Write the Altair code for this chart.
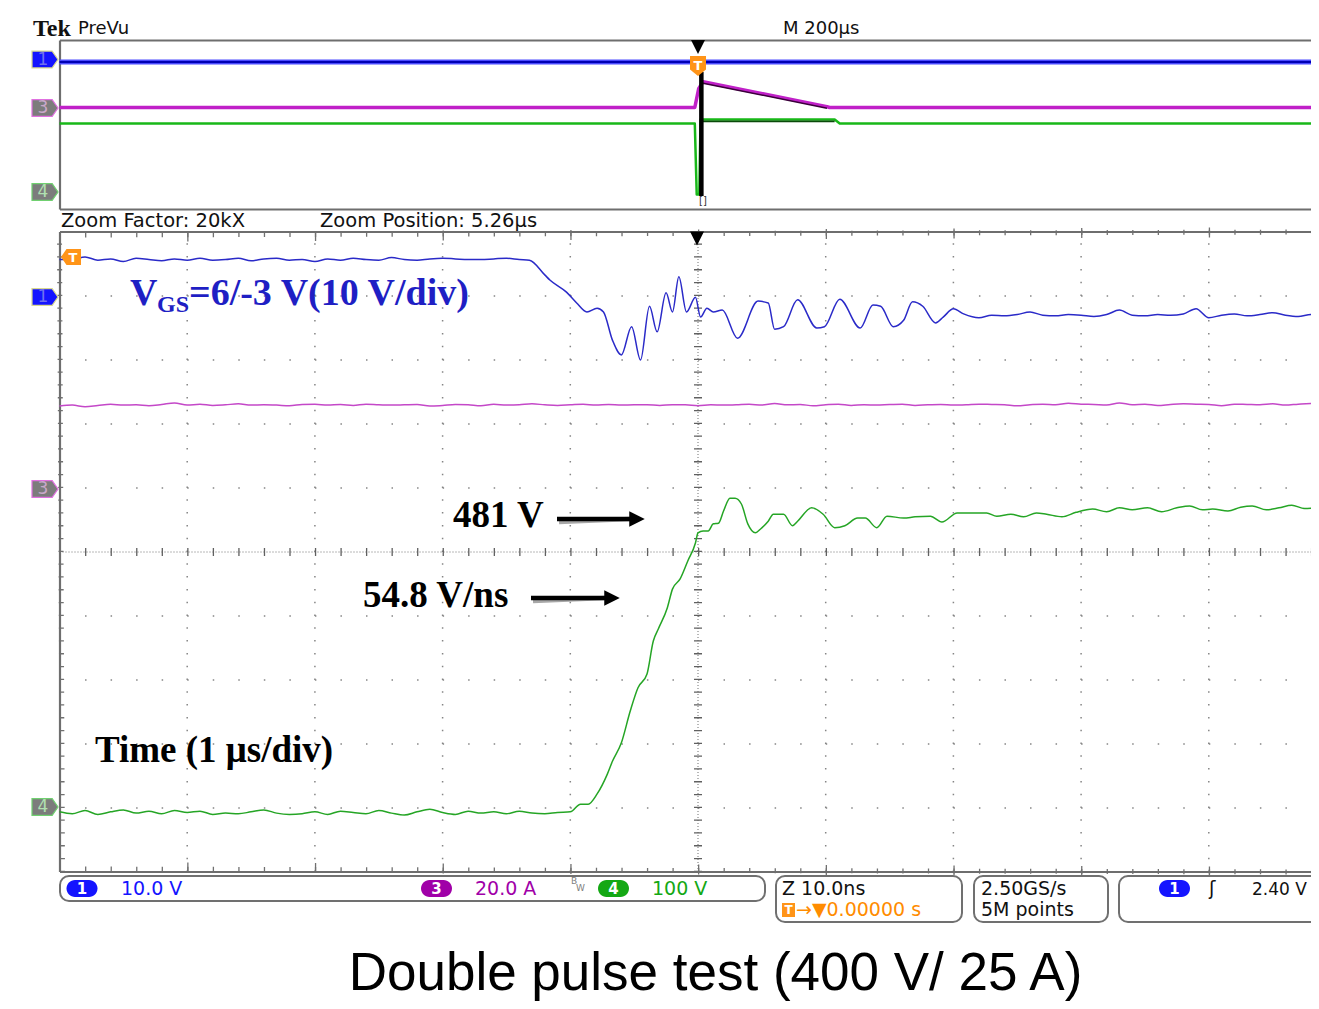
import altair as alt
import pandas as pd

# ---------------- waveform data ----------------
# Zoom window: 10 ns/div, trigger at t = 0 ns
VGS_T = [
    -50, -49, -48, -47, -46, -45, -44, -43, -42, -41,
    -40, -39, -38, -37, -36, -35, -34, -33, -32, -31,
    -30, -29, -28, -27, -26, -25, -24, -23, -22, -21,
    -20, -19, -18, -17, -16, -15, -14,
    -13.2, -12.0, -11.6, -10.3, -9.5, -8.7, -7.9, -7.4, -6.7, -6.0,
    -5.2, -4.5, -3.8, -3.2, -2.5, -2.0, -1.5, -0.9, -0.2, 0.2,
    0.7, 1.2, 1.9, 3.1, 4.7, 5.5, 6.0, 6.7, 7.8, 9.3,
    9.9, 11.1, 12.7, 13.7, 14.3, 15.3, 16.1, 16.8, 17.6, 18.6,
    19.2, 20.0, 20.8,
    22, 23, 24, 25, 26, 27, 28, 29, 30, 31,
    32, 33, 34, 35, 36, 37, 38, 39, 40, 41,
    42, 43, 44, 45, 46, 47, 48, 48.6,
]
VGS_V = [
    5.7, 5.7, 6.1, 5.6, 5.8, 5.4, 5.9, 5.7, 5.5, 5.8,
    5.6, 5.9, 5.6, 5.7, 5.9, 5.5, 5.8, 5.9, 5.6, 5.7,
    5.4, 5.8, 5.6, 5.9, 5.7, 5.6, 6.0, 5.7, 5.6, 5.8,
    5.9, 5.8, 5.7, 5.7, 5.8, 5.9, 5.7,
    5.6, 3.3, 2.5, 0.6, -1.1, -2.5, -1.9, -2.5, -6.9, -9.2,
    -4.8, -10.0, -1.6, -5.6, 0.5, -2.5, 3.0, -2.5, -0.2, -3.3,
    -1.9, -2.5, -2.2, -6.6, -0.8, -1.1, -5.2, -4.8, -0.6, -5.0,
    -4.8, -0.5, -5.0, -1.4, -1.6, -4.8, -3.8, -0.9, -1.6, -4.2,
    -3.3, -2.0, -2.8,
    -3.4, -3.0, -3.1, -2.9, -2.5, -3.0, -3.1, -2.9, -3.0, -3.2,
    -2.9, -2.2, -3.0, -3.1, -2.9, -3.0, -2.8, -2.0, -3.4, -3.0,
    -2.8, -3.1, -2.9, -2.6, -3.0, -3.2, -2.9, -3.0,
]
ID_T = [
    -50, -49, -48, -47, -46, -45, -44, -43, -42, -41,
    -40, -39, -38, -37, -36, -35, -34, -33, -32, -31,
    -30, -29, -28, -27, -26, -25, -24, -23, -22, -21,
    -20, -19, -18, -17, -16, -15, -14, -13, -12, -11,
    -10, -9, -8, -7, -6, -5, -4, -3, -2, -1,
    0, 1, 2, 3, 4, 5, 6, 7, 8, 9,
    10, 11, 12, 13, 14, 15, 16, 17, 18, 19,
    20, 21, 22, 23, 24, 25, 26, 27, 28, 29,
    30, 31, 32, 33, 34, 35, 36, 37, 38, 39,
    40, 41, 42, 43, 44, 45, 46, 47, 48, 48.6,
]
ID_A = [
    25.6, 25.9, 25.4, 25.8, 26.2, 25.9, 26.0, 25.7, 26.1, 26.6,
    25.9, 26.2, 25.8, 26.0, 26.3, 25.9, 26.0, 25.9, 25.7, 26.1,
    26.2, 25.9, 26.1, 25.8, 26.2, 26.0, 25.9, 26.0, 26.1, 25.6,
    25.8, 26.1, 26.0, 25.7, 26.2, 25.9, 26.0, 26.3, 26.0, 25.8,
    26.0, 26.2, 25.9, 26.1, 25.9, 26.0, 26.0, 25.8, 26.0, 26.0,
    25.7, 26.0, 25.9, 26.0, 26.2, 25.9, 26.4, 26.0, 26.1, 25.7,
    26.0, 26.2, 25.8, 26.0, 25.9, 26.1, 26.2, 25.8, 26.0, 26.1,
    25.9, 26.0, 26.2, 26.1, 26.0, 25.7, 26.0, 26.2, 26.0, 26.5,
    26.2, 26.1, 25.9, 26.6, 26.0, 26.2, 25.8, 26.1, 26.3, 26.2,
    26.1, 25.7, 26.2, 26.1, 26.0, 26.3, 25.9, 26.2, 26.4, 26.1,
]
VDS_T = [
    -50, -49, -48, -47, -46, -45, -44, -43, -42, -41,
    -40, -39, -38, -37, -36, -35, -34, -33, -32, -31,
    -30, -29, -28, -27, -26, -25, -24, -23, -22, -21,
    -20, -19, -18, -17, -16, -15, -14, -13, -12, -11, -10,
    -9.2, -8.6, -7.9, -7.1, -6.7, -6.0, -5.3, -4.7, -4.0, -3.5,
    -3.1, -2.4, -2.0, -1.4, -0.8, -0.2, 0.0, 0.4, 0.8, 1.2,
    1.6, 2.0, 2.5, 2.9, 3.4, 3.9, 4.5, 4.9, 5.5, 5.9,
    6.7, 7.4, 7.8, 8.9, 9.8, 10.7, 11.5, 12.5, 13.1, 14.0,
    14.8, 16.1, 17.0, 18.2, 19.1, 20.3, 22.6, 23.4, 24.5, 25.5,
    26.5, 27.3, 28.5, 29.6, 30.9, 32.0, 33.0, 34.0, 35.2, 36.3,
    37.5, 38.5, 39.5, 40.3, 41.5, 42.5, 43.4, 44.5, 45.5, 46.5,
    47.5, 48.6,
]
VDS_V = [
    -6, -9, -4, -10, -6, -3, -8, -5, -9, -4,
    -7, -5, -10, -8, -9, -6, -3, -8, -10, -9,
    -6, -10, -5, -7, -9, -4, -8, -11, -6, -2,
    -7, -10, -5, -8, -6, -9, -5, -8, -9, -7, -6,
    6, 6, 22, 53, 73, 102, 152, 188, 209, 261,
    280, 313, 342, 358, 386, 414, 430, 433, 433, 444,
    445, 464, 484, 484, 475, 444, 430, 436, 448, 459,
    459, 441, 448, 469, 459, 438, 441, 453, 453, 438,
    456, 453, 455, 456, 447, 461, 461, 456, 459, 455,
    461, 459, 455, 462, 467, 463, 469, 466, 469, 463,
    469, 472, 466, 467, 464, 470, 472, 466, 469, 473,
    468, 469,
]

# PreVu window: 200 us/div, trigger at t = 0 us
PV_VGS_T = [-1000, 972]
PV_VGS_V = [-1.2, -1.2]
PV_ID_T = [-1000, -5, 1, 8, 202, 206, 972]
PV_ID_A = [0, 0, 22, 30.4, 1, 0, 0]
PV_VDS_T = [-1000, -5, -2, 2, 4, 7, 214, 222, 972]
PV_VDS_V = [403, 403, -15, -15, 427, 427, 427, 403, 403]
ZOOM_POS_US = 5.26

# scope settings
CH_SCALE = {"ch1": 10.0, "ch3": 20.0, "ch4": 100.0}   # units per division
CH_GROUND = {"ch1": 9.0, "ch3": 6.0, "ch4": 1.0}      # division of the ground marker
GRID_T = [-40, -30, -20, -10, 10, 20, 30, 40]
GRID_DIV = [1, 2, 3, 4, 6, 7, 8, 9]

# ---------------- geometry helpers ----------------
PX_NS = 12.77   # pixels per ns in the zoom window (127.7 px/div)
PX_DIV = 64.0
W, H = 1303, 993


def X(px):
    return (px - 698.0) / PX_NS


def Y(py):
    return (872.0 - py) / PX_DIV


XS = alt.Scale(domain=[X(8), X(8 + W)], nice=False, zero=False)
YS = alt.Scale(domain=[Y(8 + H), Y(8)], nice=False, zero=False)

PV_DIV = 17.0 / PX_DIV
PV_GROUND = {"ch1": Y(60), "ch3": Y(107.5), "ch4": Y(192)}


def ex(f="x"):
    return alt.X(f"{f}:Q", scale=XS, axis=None)


def ey(f="y"):
    return alt.Y(f"{f}:Q", scale=YS, axis=None)


def trace(t, v, ch, prevu=False):
    if prevu:
        xs = [ti / 20.0 for ti in t]
        ys = [PV_GROUND[ch] + vi / CH_SCALE[ch] * PV_DIV for vi in v]
    else:
        xs = list(t)
        ys = [CH_GROUND[ch] + vi / CH_SCALE[ch] for vi in v]
    return pd.DataFrame({"x": xs, "y": ys, "i": list(range(len(xs))), "t": list(t)})


def line_layer(df, color, width, opacity=1.0, dy=0.0, interp="linear"):
    kw = dict(color=color, strokeWidth=width, opacity=opacity, strokeJoin="round", interpolate=interp)
    if dy:
        kw["yOffset"] = dy
    return alt.Chart(df).mark_line(**kw).encode(x=ex(), y=ey(), order="i:Q")


def rule_layer(df, color, width, dash=None, xoff=0.0, yoff=0.0):
    kw = dict(color=color, strokeWidth=width)
    if dash:
        kw["strokeDash"] = dash
    if xoff:
        kw["xOffset"] = xoff
    if yoff:
        kw["yOffset"] = yoff
    return alt.Chart(df).mark_rule(**kw).encode(
        x=ex(), x2=alt.X2("x2:Q"), y=ey(), y2=alt.Y2("y2:Q"))


def seg(rows):
    return pd.DataFrame(rows, columns=["x", "x2", "y", "y2"])


def text_layer(rows, font, weight="normal", align="left", baseline="alphabetic"):
    df = pd.DataFrame(rows, columns=["text", "px", "py", "size", "color"])
    df["x"] = df["px"].map(X)
    df["y"] = df["py"].map(Y)
    return alt.Chart(df).mark_text(font=font, fontWeight=weight, align=align, baseline=baseline).encode(
        x=ex(), y=ey(), text="text:N",
        size=alt.Size("size:Q", scale=None),
        color=alt.Color("color:N", scale=None))


layers = []

# ---------------- grid of the zoom window ----------------
GRID_C = "#858585"
layers.append(rule_layer(seg([(t, t, 0, 10) for t in GRID_T]), GRID_C, 1.5, [1.5, 11.3]))
layers.append(rule_layer(seg([(-50, 50, d, d) for d in GRID_DIV]), GRID_C, 1.5, [1.5, 24.04]))
# centre cross (fine dotted + ticks)
layers.append(rule_layer(seg([(0, 0, 0, 10)]), "#707070", 1, [1, 2]))
layers.append(rule_layer(seg([(0, 0, 0, 10)]), "#606060", 8, [1.3, 11.5]))
layers.append(rule_layer(seg([(-50, 50, 5, 5)]), "#707070", 1, [1, 2]))
layers.append(rule_layer(seg([(-50, 50, 5, 5)]), "#606060", 8, [1.3, 24.24]))
# border ticks
layers.append(rule_layer(seg([(-50, -50, 0, 10)]), "#707070", 5, [1.3, 11.5], xoff=3))
layers.append(rule_layer(seg([(-50, 50, 10, 10)]), "#707070", 5, [1.3, 24.24], yoff=3))
layers.append(rule_layer(seg([(-50, 50, 0, 0)]), "#707070", 5, [1.3, 24.24], yoff=-3))
layers.append(rule_layer(seg([(-50, 50, 10, 10)]), "#707070", 10, [1.3, 126.4], yoff=5))
layers.append(rule_layer(seg([(-50, 50, 0, 0)]), "#707070", 10, [1.3, 126.4], yoff=-5))

# ---------------- frames ----------------
FRAME_PX = [
    (60, 1330, 40.5, 40.5), (60, 1330, 209.5, 209.5), (60, 60, 40.5, 209.5),
    (60, 1330, 232, 232), (60, 1330, 872, 872), (60, 60, 232, 872),
]
layers.append(rule_layer(seg([(X(a), X(b), Y(c), Y(d)) for a, b, c, d in FRAME_PX]), "#6e6e6e", 2.2))

# ---------------- PreVu traces ----------------
pv_vgs = trace(PV_VGS_T, PV_VGS_V, "ch1", prevu=True)
pv_id = trace(PV_ID_T, PV_ID_A, "ch3", prevu=True)
pv_vds = trace(PV_VDS_T, PV_VDS_V, "ch4", prevu=True)
layers.append(line_layer(pv_vgs, "#4a4aff", 5))
layers.append(line_layer(pv_vgs, "#0000b4", 2))
layers.append(line_layer(pv_id, "#c020c8", 3.5))
layers.append(line_layer(pv_id[(pv_id.t >= 8) & (pv_id.t <= 202)], "#3a003a", 1.5, dy=1.5))
layers.append(line_layer(pv_vds, "#18b818", 2.5))
layers.append(line_layer(pv_vds[(pv_vds.t >= 7) & (pv_vds.t <= 214)], "#0a4a0a", 1.6, dy=2))

# zoom-window indicator in the PreVu
layers.append(rule_layer(seg([(ZOOM_POS_US / 20.0, ZOOM_POS_US / 20.0, Y(72), Y(196))]), "#000000", 4.5))

# ---------------- zoom-window traces ----------------
layers.append(line_layer(trace(ID_T, ID_A, "ch3"), "#c448c8", 1.5, interp="monotone"))
layers.append(line_layer(trace(VDS_T, VDS_V, "ch4"), "#25a525", 1.5, interp="monotone"))
layers.append(line_layer(trace(VGS_T, VGS_V, "ch1"), "#2a2ac8", 1.5, interp="monotone"))

# ---------------- markers ----------------
ARROW_R = "M-1,-0.65 L0.55,-0.65 L1,0 L0.55,0.65 L-1,0.65 Z"
MARK_ROWS = [
    (45, 59.5, "#1414ff", "#d8d890", "1", "#7070ee"),
    (45, 108, "#7c7c7c", "#e070e0", "3", "#caa8ca"),
    (45, 192, "#7c7c7c", "#70d070", "4", "#b0e0b0"),
    (45, 297, "#1414ff", "#d8d890", "1", "#7070ee"),
    (45, 489, "#7c7c7c", "#e070e0", "3", "#caa8ca"),
    (45, 807, "#7c7c7c", "#70d070", "4", "#b0e0b0"),
]
mk = pd.DataFrame(MARK_ROWS, columns=["px", "py", "fill", "stroke", "text", "tc"])
mk["x"] = mk["px"].map(X)
mk["y"] = mk["py"].map(Y)
layers.append(alt.Chart(mk).mark_point(shape=ARROW_R, size=676, filled=True, opacity=1, strokeWidth=1.2).encode(
    x=ex(), y=ey(), fill=alt.Fill("fill:N", scale=None), stroke=alt.Stroke("stroke:N", scale=None)))
layers.append(alt.Chart(mk).mark_text(font="DejaVu Sans", fontSize=17, align="center", baseline="middle", dx=-2).encode(
    x=ex(), y=ey(), text="text:N", color=alt.Color("tc:N", scale=None)))

# trigger-position triangles
tri = pd.DataFrame({"x": [X(698), X(697)], "y": [Y(47), Y(238.5)]})
layers.append(alt.Chart(tri).mark_point(shape="M-1,-1 L1,-1 L0,1 Z", size=196, filled=True, color="black", opacity=1).encode(x=ex(), y=ey()))

# orange trigger markers
tdown = pd.DataFrame({"x": [X(698)], "y": [Y(66)]})
layers.append(alt.Chart(tdown).mark_point(shape="M-0.8,-1 L0.8,-1 L0.8,0.35 L0,1 L-0.8,0.35 Z", size=400, filled=True,
                                          color="#ff9418", opacity=1).encode(x=ex(), y=ey()))
tleft = pd.DataFrame({"x": [X(71)], "y": [Y(257)]})
layers.append(alt.Chart(tleft).mark_point(shape="M-1,0 L-0.45,-0.8 L1,-0.8 L1,0.8 L-0.45,0.8 Z", size=400, filled=True,
                                          color="#ff9418", opacity=1).encode(x=ex(), y=ey()))

# annotation arrows (shadow + arrow)
ARROWS_PX = [(557, 630, 519), (531, 605, 598)]
sh = seg([(X(a), X(b), Y(c), Y(c)) for a, b, c in ARROWS_PX])
layers.append(rule_layer(sh, "#a8a8a8", 4.5, xoff=2, yoff=3))
layers.append(rule_layer(sh, "#000000", 4.5))
heads = pd.DataFrame({"x": [X(b + 7) for a, b, c in ARROWS_PX], "y": [Y(c) for a, b, c in ARROWS_PX]})
layers.append(alt.Chart(heads).mark_point(shape="M-1,-1 L1,0 L-1,1 Z", size=240, filled=True, color="#000000", opacity=1).encode(x=ex(), y=ey()))

# ---------------- status bar ----------------
BOX_PX = [(60, 765, 876, 901), (776, 962, 876, 922), (974, 1108, 876, 922), (1119, 1345, 876, 922)]
bx = pd.DataFrame([(X(a), X(b), Y(c), Y(d)) for a, b, c, d in BOX_PX], columns=["x", "x2", "y", "y2"])
layers.append(alt.Chart(bx).mark_rect(fill="white", stroke="#707070", strokeWidth=2, cornerRadius=9).encode(
    x=ex(), x2=alt.X2("x2:Q"), y=ey(), y2=alt.Y2("y2:Q")))

PILL_PX = [(66.5, 97.5, "#1414ff", "1"), (421, 452, "#a000a8", "3"), (598, 629, "#14a814", "4"), (1159, 1190, "#1414ff", "1")]
pl = pd.DataFrame([(X(a), X(b), Y(880), Y(897), c, t, X((a + b) / 2), Y(889)) for a, b, c, t in PILL_PX],
                  columns=["x", "x2", "y", "y2", "fill", "text", "cx", "cy"])
layers.append(alt.Chart(pl).mark_rect(cornerRadius=8.5).encode(
    x=ex(), x2=alt.X2("x2:Q"), y=ey(), y2=alt.Y2("y2:Q"), fill=alt.Fill("fill:N", scale=None)))
layers.append(alt.Chart(pl).mark_text(font="DejaVu Sans", fontWeight="bold", fontSize=15, color="white",
                                      align="center", baseline="middle").encode(x=ex("cx"), y=ey("cy"), text="text:N"))

ob = pd.DataFrame({"x": [X(782)], "x2": [X(795)], "y": [Y(903)], "y2": [Y(917)]})
layers.append(alt.Chart(ob).mark_rect(fill="#ff9418").encode(x=ex(), x2=alt.X2("x2:Q"), y=ey(), y2=alt.Y2("y2:Q")))

# ---------------- texts ----------------
BLUE_TXT = "#1f1fc4"
layers.append(text_layer([("Tek", 33, 36, 24, "#111111")], "Liberation Serif", "bold"))
layers.append(text_layer([
    ("PreVu", 78, 34, 18, "#111111"),
    ("M 200\u03bcs", 783, 34, 18, "#111111"),
    ("Zoom Factor: 20kX", 61, 227, 19.5, "#111111"),
    ("Zoom Position: 5.26\u03bcs", 320, 227, 19.5, "#111111"),
    ("10.0 V", 121, 895, 19, "#1414ff"),
    ("20.0 A", 475, 895, 19, "#a000a8"),
    ("100 V", 652, 895, 19, "#14a814"),
    ("Z 10.0ns", 782, 895, 19, "#111111"),
    ("\u2192\u25bc0.00000 s", 796, 916, 19, "#ff8c00"),
    ("2.50GS/s", 981, 895, 19, "#111111"),
    ("5M points", 981, 916, 19, "#111111"),
    ("\u0283", 1209, 895, 19, "#111111"),
    ("2.40 V", 1252, 895, 17, "#111111"),
    ("B", 571, 884, 9, "#808080"),
    ("W", 576, 891, 9, "#808080"),
], "DejaVu Sans"))
layers.append(text_layer([
    ("T", 788.5, 910, 12, "white"),
    ("T", 698, 66, 13, "white"),
    ("T", 73, 257.5, 13, "white"),
], "DejaVu Sans", "bold", align="center", baseline="middle"))
layers.append(text_layer([("[]", 703, 201, 10, "#333333")], "DejaVu Sans", align="center", baseline="middle"))
layers.append(text_layer([
    ("V", 130, 305, 38, BLUE_TXT),
    ("GS", 157, 312, 24, BLUE_TXT),
    ("=6/-3 V(10 V/div)", 189, 305, 38, BLUE_TXT),
    ("481 V", 453, 527, 37, "#000000"),
    ("54.8 V/ns", 363, 607, 37, "#000000"),
    ("Time (1 \u03bcs/div)", 95, 762, 37, "#000000"),
], "Liberation Serif", "bold"))
layers.append(text_layer([("Double pulse test (400 V/ 25 A)", 715.5, 990, 53, "#000000")],
                         "Liberation Sans", align="center"))

chart = alt.layer(*layers).properties(
    width=W, height=H, padding=0,
    autosize=alt.AutoSizeParams(type="none"),
    background="white",
).configure_view(stroke=None)

chart.save("out.html", embed_options={"renderer": "svg", "actions": False})
